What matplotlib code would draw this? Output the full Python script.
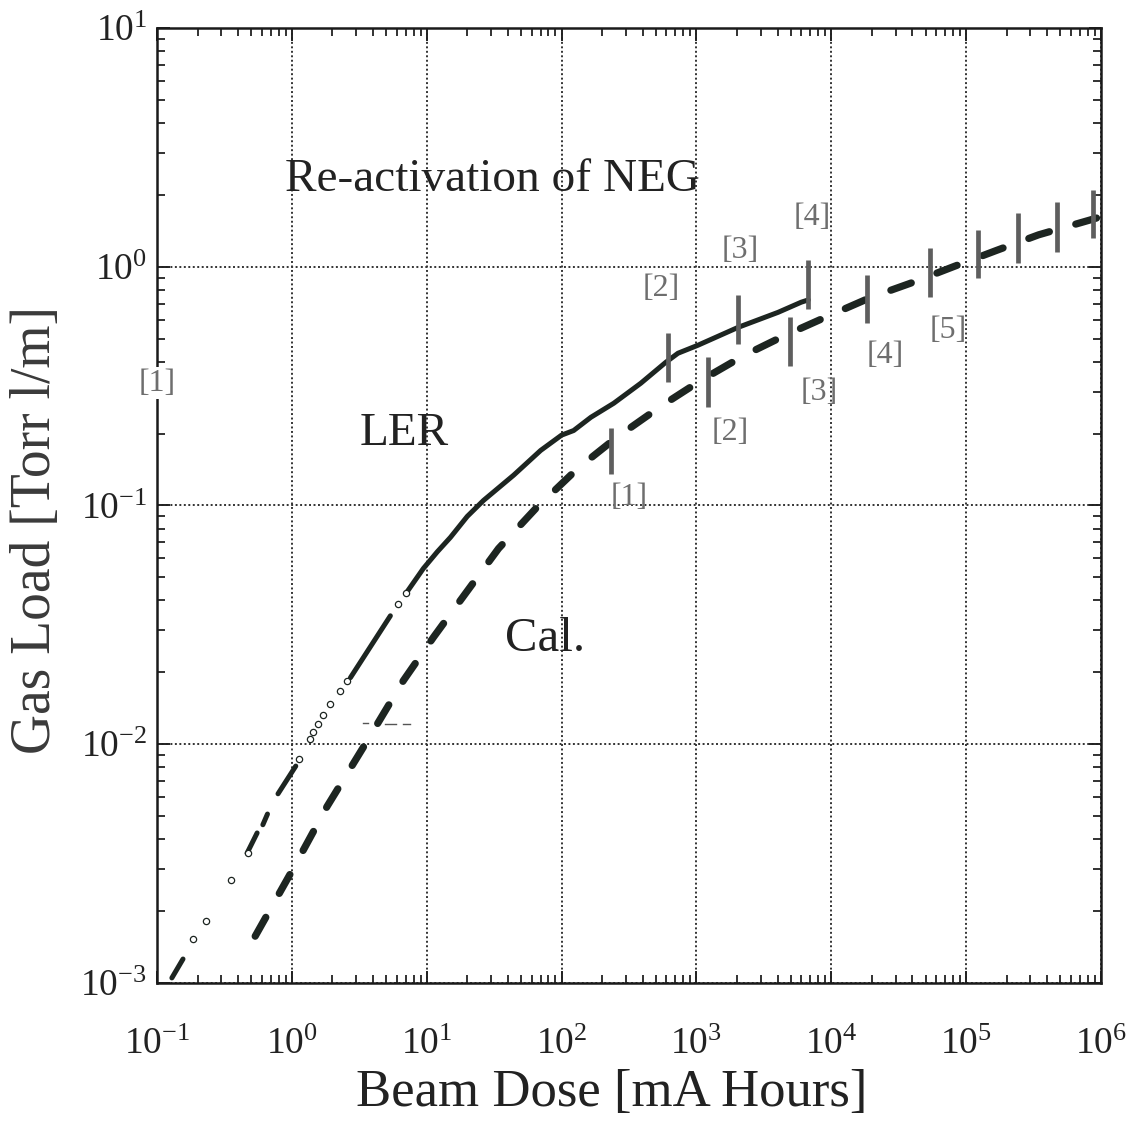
import numpy as np
import matplotlib
matplotlib.use("Agg")
import matplotlib.pyplot as plt
from matplotlib.ticker import LogLocator, NullFormatter, FixedLocator

plt.rcParams["font.family"] = ["Liberation Serif", "DejaVu Serif"]
plt.rcParams["mathtext.fontset"] = "custom"
plt.rcParams["mathtext.rm"] = "Liberation Serif"
plt.rcParams["mathtext.it"] = "Liberation Serif:italic"
plt.rcParams["mathtext.bf"] = "Liberation Serif:bold"

# ---- measured gas load for LER (solid pieces, NaN = break) ----
ler_line_x = [0.129, 0.156, np.nan,
              0.466, 0.553, np.nan,
              0.61, 0.66, np.nan,
              0.79, 1.07, np.nan,
              2.72, 5.38, np.nan,
              7.2, 9.46, 12.0, 15.0, 20.0, 26.4, 44.2, 70, 100, 123, 165,
              244, 387, 594, 730, 1028, 2037, 4036, 5985, 6760]
ler_line_y = [1.05e-3, 1.26e-3, np.nan,
              3.5e-3, 4.25e-3, np.nan,
              4.6e-3, 5.1e-3, np.nan,
              6.2e-3, 8.1e-3, np.nan,
              0.019, 0.0345, np.nan,
              0.0437, 0.0545, 0.0640, 0.0735, 0.090, 0.105, 0.134, 0.170,
              0.197, 0.206, 0.234, 0.268, 0.325, 0.398, 0.434, 0.469, 0.557,
              0.644, 0.710, 0.726]

# sparse LER samples shown as open circles
ler_pts_x = [0.185, 0.231, 0.355, 0.47, 1.13, 1.37, 1.44, 1.57, 1.71,
             1.93, 2.29, 2.58, 6.17, 6.97]
ler_pts_y = [1.53e-3, 1.82e-3, 2.7e-3, 3.5e-3, 8.7e-3, 0.01055, 0.01128,
             0.0121, 0.0132, 0.0148, 0.01677, 0.01845, 0.0388, 0.0431]

# ---- calculated gas load ----
cal_x = [0.535, 1.02, 1.83, 3.5, 6.73, 11.2, 19.4, 34.1, 64.3, 132, 257,
         555, 1081, 2259, 4550, 9780, 19800, 40600, 80500, 168000, 345000,
         833000, 1.0e6]
cal_y = [1.57e-3, 3.0e-3, 5.5e-3, 1.0e-2, 1.85e-2, 2.8e-2, 4.28e-2, 6.6e-2,
         9.7e-2, 0.143, 0.193, 0.262, 0.334, 0.425, 0.516, 0.626, 0.745,
         0.861, 1.0, 1.17, 1.36, 1.57, 1.62]

# ---- NEG re-activation markers (dose, lower / upper end of bar) ----
ler_react_x = [615, 2037, 6745]
ler_react_lo = [0.328, 0.473, 0.664]
ler_react_hi = [0.526, 0.759, 1.065]

cal_react_x = [232, 1219, 4955, 18500, 54300, 121600, 241000, 470000, 869000]
cal_react_lo = [0.136, 0.258, 0.383, 0.579, 0.745, 0.895, 1.04, 1.15, 1.32]
cal_react_hi = [0.212, 0.418, 0.614, 0.921, 1.20, 1.42, 1.68, 1.86, 2.09]

# bracket labels for the re-activations
ler_lab_text = ["[1]", "[2]", "[3]", "[4]"]
ler_lab_x = [0.1, 546, 2110, 7230]
ler_lab_y = [0.325, 0.813, 1.17, 1.6]

cal_lab_text = ["[1]", "[2]", "[3]", "[4]", "[5]"]
cal_lab_x = [316, 1778, 8150, 25200, 74000]
cal_lab_y = [0.108, 0.202, 0.298, 0.425, 0.542]

# small stray dash pieces
stray_x = [3.4, 3.7, np.nan, 4.9, 5.9, np.nan, 6.7, 7.5]
stray_y = [0.0123, 0.0123, np.nan, 0.0122, 0.0122, np.nan, 0.0121, 0.0121]

# major tick positions (decades)
x_major = [1e-1, 1e0, 1e1, 1e2, 1e3, 1e4, 1e5, 1e6]
y_major = [1e-3, 1e-2, 1e-1, 1e0, 1e1]

ink = "#1d2521"
bar_col = "#5e5e5e"
lab_col = "#6e6e6e"

fig = plt.figure(figsize=(11.3, 11.22), dpi=100)
ax = fig.add_axes([0.1389, 0.1239, 0.8354, 0.8512])
ax.set_xscale("log")
ax.set_yscale("log")
ax.set_xlim(1e-1, 1e6)
ax.set_ylim(1e-3, 1e1)

ax.grid(True, which="major", color="#333333", linestyle=(0, (1, 1.3)),
        linewidth=1.4)
ax.set_axisbelow(True)

ax.plot(ler_line_x, ler_line_y, color=ink, lw=3.6, solid_capstyle="round",
        zorder=3)
ax.plot(ler_pts_x, ler_pts_y, linestyle="none", marker="o", ms=4.5,
        mfc="white", mec=ink, mew=0.9, zorder=4)
ax.plot(cal_x, cal_y, color=ink, lw=5.2, linestyle=(0, (3.0, 3.8)),
        dash_capstyle="round", zorder=3)
ax.plot(stray_x, stray_y, color="#555555", lw=1.0, zorder=3)

ax.vlines(ler_react_x, ler_react_lo, ler_react_hi, color=bar_col, lw=3.4,
          zorder=5)
ax.vlines(cal_react_x, cal_react_lo, cal_react_hi, color=bar_col, lw=3.4,
          zorder=5)

for t, x, y in zip(ler_lab_text, ler_lab_x, ler_lab_y):
    kw = {}
    if x <= 0.1:
        kw = dict(bbox=dict(facecolor="white", edgecolor="none", pad=1),
                  clip_on=False)
    ax.text(x, y, t, ha="center", va="center", fontsize=23, color=lab_col,
            zorder=6, **kw)
for t, x, y in zip(cal_lab_text, cal_lab_x, cal_lab_y):
    ax.text(x, y, t, ha="center", va="center", fontsize=23, color=lab_col,
            zorder=6)

ax.text(0.355, 0.841, "Re-activation of NEG", transform=ax.transAxes,
        ha="center", va="center", fontsize=34, color="#222222")
ax.text(0.262, 0.575, "LER", transform=ax.transAxes, ha="center",
        va="center", fontsize=34, color="#222222")
ax.text(0.411, 0.36, "Cal.", transform=ax.transAxes, ha="center",
        va="center", fontsize=35, color="#222222")

ax.xaxis.set_major_locator(FixedLocator(x_major))
ax.yaxis.set_major_locator(FixedLocator(y_major))
ax.xaxis.set_minor_locator(LogLocator(base=10, subs=np.arange(2, 10),
                                      numticks=20))
ax.yaxis.set_minor_locator(LogLocator(base=10, subs=np.arange(2, 10),
                                      numticks=20))
ax.xaxis.set_minor_formatter(NullFormatter())
ax.yaxis.set_minor_formatter(NullFormatter())

ax.tick_params(which="both", direction="in", top=True, right=True,
               colors="#222222", labelsize=27)
ax.tick_params(which="major", length=9, width=1.4)
ax.tick_params(which="minor", length=5.5, width=1.3)
ax.tick_params(axis="x", which="major", pad=32)
ax.tick_params(axis="y", which="major", pad=7)

for sp in ax.spines.values():
    sp.set_linewidth(1.8)
    sp.set_color("#1a1a1a")

ax.set_xlabel("Beam Dose [mA Hours]", fontsize=38, color="#222222")
ax.set_ylabel("Gas Load [Torr l/m]", fontsize=40, color="#3a3a3a")
ax.xaxis.set_label_coords(0.482, -0.115)
ax.xaxis.label.set_va("center")
ax.yaxis.set_label_coords(-0.128, 0.474)
ax.yaxis.label.set_va("center")

fig.savefig("out.png", dpi=100, facecolor="white")
